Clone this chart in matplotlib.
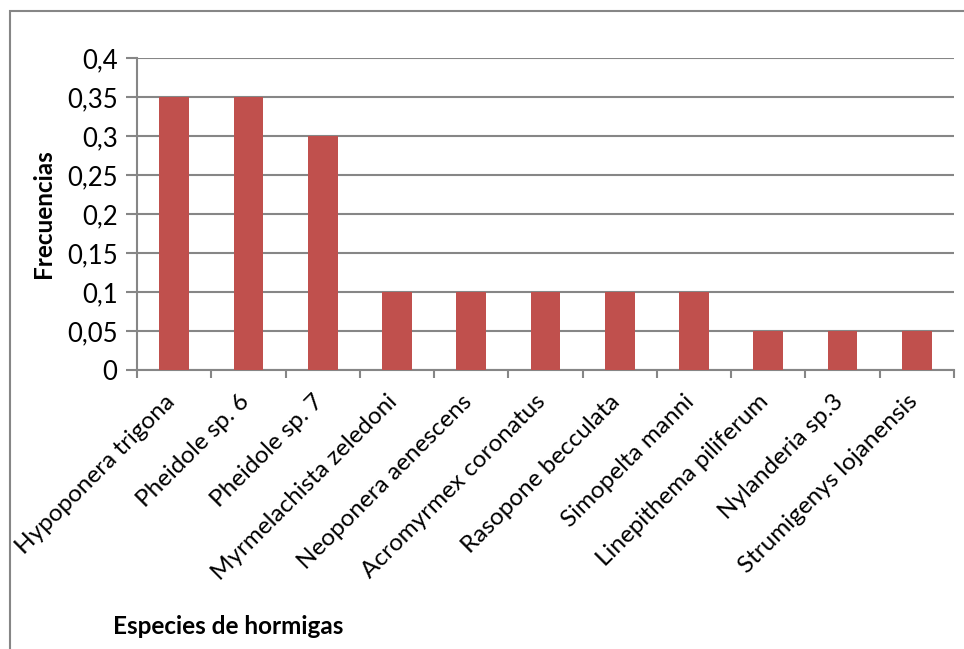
import matplotlib.pyplot as plt
import numpy as np
from matplotlib.patches import Rectangle
from matplotlib.ticker import FuncFormatter, MultipleLocator

especies = ['Hypoponera trigona', 'Pheidole sp. 6', 'Pheidole sp. 7',
            'Myrmelachista zeledoni', 'Neoponera aenescens', 'Acromyrmex coronatus',
            'Rasopone becculata', 'Simopelta manni', 'Linepithema piliferum',
            'Nylanderia sp.3', 'Strumigenys lojanensis']
frecuencias = [0.35, 0.35, 0.3, 0.1, 0.1, 0.1, 0.1, 0.1, 0.05, 0.05, 0.05]

plt.rcParams['font.family'] = ['Lato', 'DejaVu Sans']
gris = '#868686'

fig = plt.figure(figsize=(9.64, 6.49), dpi=100)
# marco exterior del grafico
fig.patches.append(Rectangle((9.5 / 964, -0.05), 1.1, 1 - 10.5 / 649 + 0.05,
                             transform=fig.transFigure, fill=False,
                             edgecolor=gris, linewidth=1.5))

ax = fig.add_axes([137 / 964, 1 - 370 / 649, (954 - 137) / 964, (370 - 58) / 649])
x = np.arange(len(especies))
ax.bar(x, frecuencias, width=0.4, color='#C0504D', zorder=3)

ax.set_xlim(-0.5, len(especies) - 0.5)
ax.set_ylim(0, 0.4)
ax.yaxis.set_major_locator(MultipleLocator(0.05))
ax.yaxis.set_major_formatter(FuncFormatter(lambda v, p: ('%g' % round(v, 2)).replace('.', ',')))
ax.grid(axis='y', color=gris, linewidth=1.5, zorder=0)

for s in ['top', 'right']:
    ax.spines[s].set_visible(False)
for s in ['left', 'bottom']:
    ax.spines[s].set_color(gris)
    ax.spines[s].set_linewidth(1.5)

# marcas en los limites de cada categoria, etiquetas en el centro
ax.set_xticks(np.arange(len(especies) + 1) - 0.5)
ax.set_xticklabels([])
ax.set_xticks(x - 0.14, minor=True)
ax.set_xticklabels(especies, minor=True, rotation=45, ha='right',
                   rotation_mode='anchor', fontsize=17.5)
ax.tick_params(axis='x', which='major', length=6, width=1.5, color=gris)
ax.tick_params(axis='x', which='minor', length=0, pad=15)
ax.tick_params(axis='y', length=8, width=1.5, color=gris, labelsize=18.5, pad=6)

ax.set_ylabel('Frecuencias', fontweight='bold', fontsize=17.5)
ax.yaxis.set_label_coords(-82 / 817, 0.5)
fig.text(228 / 964, 1 - 627 / 649, 'Especies de hormigas', fontweight='bold',
         fontsize=17.5, ha='center', va='center')

fig.savefig('out.png', dpi=100)
